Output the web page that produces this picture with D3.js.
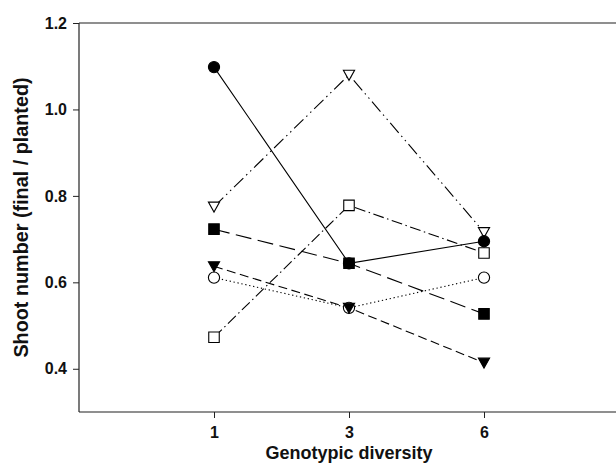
<!DOCTYPE html>
<html>
<head>
<meta charset="utf-8">
<script src="https://cdn.jsdelivr.net/npm/d3@7"></script>
<style>
html,body{margin:0;padding:0;background:#fff;}
svg{display:block;font-family:"Liberation Sans",Arial,sans-serif;}
</style>
</head>
<body>
<svg id="chart" width="616" height="464"></svg>
<script>
// ---- data ----
const categories = ["1", "3", "6"];
const yTicks = [0.4, 0.6, 0.8, 1.0, 1.2];
const filledCircle   = [1.098, 0.644, 0.695];
const openTriangle   = [0.775, 1.080, 0.716];
const openSquare     = [0.473, 0.778, 0.668];
const filledSquare   = [0.723, 0.644, 0.527];
const filledTriangle = [0.637, 0.541, 0.414];
const openCircle     = [0.611, 0.541, 0.611];
const xTitle = "Genotypic diversity";
const yTitle = "Shoot number (final / planted)";

// ---- layout ----
const svg = d3.select("#chart");
const mLeft = 79, mRight = 619, mTop = 23, mBottom = 412;

const x = d3.scalePoint().domain(categories).range([mLeft, mRight]).padding(1);
const y = d3.scaleLinear().domain([0.3, 1.2]).range([mBottom, mTop]);

const series = [
  {values: openCircle,     shape: "circle",   fill: "#fff", dash: "1.3,2.7"},
  {values: filledTriangle, shape: "triangle", fill: "#000", dash: "9,4.5"},
  {values: openSquare,     shape: "square",   fill: "#fff", dash: "11,3.5,1.5,3.5"},
  {values: filledSquare,   shape: "square",   fill: "#000", dash: "16,6.5"},
  {values: openTriangle,   shape: "triangle", fill: "#fff", dash: "13,4,1.5,4,1.5,4"},
  {values: filledCircle,   shape: "circle",   fill: "#000", dash: null}
];

// frame
svg.append("line").attr("x1", mLeft).attr("x2", 616).attr("y1", mTop).attr("y2", mTop)
  .attr("stroke", "#6a6a6a").attr("stroke-width", 1.6);
svg.append("line").attr("x1", mLeft).attr("x2", 616).attr("y1", mBottom).attr("y2", mBottom)
  .attr("stroke", "#6a6a6a").attr("stroke-width", 1.6);

// y axis
const yAxis = d3.axisLeft(y).tickValues(yTicks).tickFormat(d3.format(".1f")).tickSize(6).tickPadding(6);
const gy = svg.append("g").attr("transform", `translate(${mLeft},0)`).call(yAxis);
gy.select(".domain").attr("stroke", "#222").attr("stroke-width", 1.2)
  .attr("d", `M0,${mTop}V${mBottom}`);
gy.selectAll(".tick line").attr("stroke", "#222");
gy.selectAll(".tick text").attr("font-size", 16).attr("font-weight", "bold")
  .attr("fill", "#111").attr("font-family", "Liberation Sans, Arial, sans-serif");

// x axis
const xAxis = d3.axisBottom(x).tickSize(6).tickPadding(9);
const gx = svg.append("g").attr("transform", `translate(0,${mBottom})`).call(xAxis);
gx.select(".domain").remove();
gx.selectAll(".tick line").attr("stroke", "#222");
gx.selectAll(".tick text").attr("font-size", 16).attr("font-weight", "bold")
  .attr("fill", "#111").attr("font-family", "Liberation Sans, Arial, sans-serif");

// titles
svg.append("text").attr("x", x("3")).attr("y", 459)
  .attr("text-anchor", "middle").attr("font-size", 18).attr("font-weight", "bold")
  .attr("fill", "#111").text(xTitle);
svg.append("text").attr("transform", `translate(28,${(mTop + mBottom) / 2}) rotate(-90)`)
  .attr("text-anchor", "middle").attr("font-size", 19.8).attr("font-weight", "bold")
  .attr("fill", "#111").text(yTitle);

// lines
const line = d3.line().x((d, i) => x(categories[i])).y(d => y(d));
series.forEach(s => {
  svg.append("path").datum(s.values).attr("d", line)
    .attr("fill", "none").attr("stroke", "#000").attr("stroke-width", 1.1)
    .attr("stroke-dasharray", s.dash);
});

// markers
const sym = {
  circle: d3.symbol().type(d3.symbolCircle).size(Math.PI * 5.6 * 5.6),
  square: d3.symbol().type(d3.symbolSquare).size(10.5 * 10.5)
};
const tri = "M-5.6,-4.6L5.6,-4.6L0,5.4Z";
series.forEach(s => {
  s.values.forEach((v, i) => {
    svg.append("path")
      .attr("transform", `translate(${x(categories[i])},${y(v)})`)
      .attr("d", s.shape === "triangle" ? tri : sym[s.shape]())
      .attr("fill", s.fill).attr("stroke", "#000").attr("stroke-width", 1.1);
  });
});
</script>
</body>
</html>
